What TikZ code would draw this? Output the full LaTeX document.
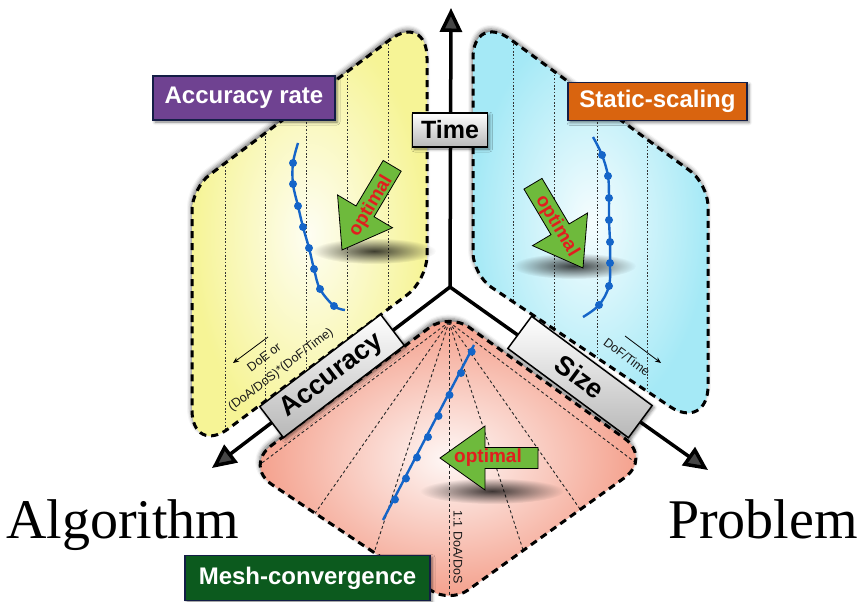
\documentclass[tikz,border=0pt]{standalone}
\usepackage{fontspec}
\setmainfont{Liberation Serif}
\setsansfont{Liberation Sans}
\usetikzlibrary{arrows.meta,shadows.blur,fadings,calc}
\definecolor{yel}{RGB}{246,244,150}
\definecolor{cya}{RGB}{165,233,246}
\definecolor{sal}{RGB}{244,160,140}
\definecolor{bl}{RGB}{21,101,200}
\definecolor{grn}{RGB}{110,186,60}
\definecolor{redt}{RGB}{225,30,30}
\definecolor{purp}{RGB}{111,66,145}
\definecolor{orng}{RGB}{217,100,15}
\definecolor{dgrn}{RGB}{12,90,30}
\definecolor{navy}{RGB}{20,30,70}
\tikzfading[name=fuzzyspot, inner color=transparent!25, outer color=transparent!100]
% rounded corner at vertex #2 between #1 and #3, cut length #4, control length #5
\newcommand{\myrc}[5]{-- ($(#2)!#4!(#1)$) .. controls ($(#2)!#5!(#1)$) and ($(#2)!#5!(#3)$) .. ($(#2)!#4!(#3)$)}
\begin{document}
\begin{tikzpicture}[x=1pt,y=-1pt,
  regshadow/.style={blur shadow={shadow xshift=-1pt,shadow yshift=3pt,shadow blur radius=4pt,shadow opacity=55}},
  border/.style={draw=black,line width=3pt,dash pattern=on 7pt off 5pt},
  dotline/.style={draw=black!80,line width=0.8pt,dash pattern=on 1.6pt off 1.8pt},
  fanline/.style={draw=black!85,line width=0.9pt,dash pattern=on 3pt off 2.5pt},
  curve/.style={draw=bl,line width=2.4pt},
  dot/.style={fill=bl},
  garrow/.style={fill=grn,draw=black,line width=0.8pt,line join=miter},
  opt/.style={text=redt,font=\sffamily\bfseries\fontsize{19}{19}\selectfont,inner sep=0pt},
  spot/.style={fill=black,path fading=fuzzyspot},
  lab/.style={draw=navy,line width=1.6pt,text=white,font=\sffamily\bfseries\fontsize{24}{24}\selectfont,inner sep=0pt,blur shadow={shadow xshift=2pt,shadow yshift=-2pt,shadow blur radius=3pt,shadow opacity=50}},
  axbox/.style={draw=black,line width=1.5pt,top color=white,bottom color=black!28,text=black,font=\sffamily\bfseries,inner sep=0pt,blur shadow={shadow xshift=2pt,shadow yshift=-2pt,shadow blur radius=3pt,shadow opacity=50}},
  axis/.style={line width=3.5pt,-{Triangle[length=24pt,width=22pt]}},
  small/.style={font=\sffamily\fontsize{12.5}{15}\selectfont,inner sep=0pt,text=black!90},
  big/.style={font=\fontsize{56}{56}\selectfont,inner sep=0pt}
]
\useasboundingbox (0,0) rectangle (862,602);
% vertices
\coordinate (Y1) at (192,188); \coordinate (Y2) at (427,12); \coordinate (Y3) at (427,280); \coordinate (Y4) at (192,456);
\coordinate (C1) at (473,12); \coordinate (C2) at (708,184); \coordinate (C3) at (708,432); \coordinate (C4) at (473,275);
\coordinate (S1) at (449,313); \coordinate (S2) at (652,458); \coordinate (S3) at (450,603); \coordinate (S4) at (244,466);
\def\ypath{($(Y4)!0.5!(Y1)$) \myrc{Y4}{Y1}{Y2}{22pt}{10pt} \myrc{Y1}{Y2}{Y3}{46pt}{21pt} \myrc{Y2}{Y3}{Y4}{24pt}{11pt} \myrc{Y3}{Y4}{Y1}{46pt}{21pt} -- cycle}
\def\cpath{($(C4)!0.5!(C1)$) \myrc{C4}{C1}{C2}{46pt}{21pt} \myrc{C1}{C2}{C3}{22pt}{10pt} \myrc{C2}{C3}{C4}{46pt}{21pt} \myrc{C3}{C4}{C1}{22pt}{10pt} -- cycle}
\def\spath{($(S4)!0.5!(S1)$) \myrc{S4}{S1}{S2}{24pt}{11pt} \myrc{S1}{S2}{S3}{34pt}{15pt} \myrc{S2}{S3}{S4}{22pt}{10pt} \myrc{S3}{S4}{S1}{34pt}{15pt} -- cycle}
\def\arrowshape{(0,0) -- (-45,-32) -- (-45,-10.5) -- (-98,-10.5) -- (-98,10.5) -- (-45,10.5) -- (-45,32) -- cycle}

% ---------- yellow region
\path[inner color=yel!12!white,outer color=yel,regshadow] \ypath;
\begin{scope}
  \clip \ypath;
  \foreach \x in {225,265,306,347,388} \draw[dotline] (\x,0) -- (\x,480);
\end{scope}
\draw[border] \ypath;

% ---------- cyan region
\path[inner color=cya!10!white,outer color=cya,regshadow] \cpath;
\begin{scope}
  \clip \cpath;
  \foreach \x in {513,554,597,647} \draw[dotline] (\x,0) -- (\x,480);
\end{scope}
\draw[border] \cpath;

% ---------- salmon region
\path[inner color=sal!8!white,outer color=sal,regshadow] \spath;
\coordinate (apex) at (449,322);
\begin{scope}
  \clip \spath;
  \foreach \a in {37,55,72,90,108,125,143} \draw[fanline] (apex) -- ++(\a:420);
\end{scope}
\draw[border] \spath;

% ---------- shadows under arrows
\fill[spot] (374,251) ellipse [x radius=62, y radius=13];
\fill[spot] (574,266) ellipse [x radius=62, y radius=13];
\fill[spot] (492,491) ellipse [x radius=72, y radius=13];

% ---------- blue curves
\draw[curve] plot[smooth,tension=0.6] coordinates {(298,143) (293,163) (293,184) (298,206) (303,227) (309,248) (314,269) (320,289) (334,306) (345,310)};
\foreach \p in {(293,163),(293,184),(298,206),(303,227),(309,248),(314,269),(320,289),(334,306)} \fill[dot] \p circle (4);
\draw[curve] plot[smooth,tension=0.6] coordinates {(593,137) (602,155) (608,176) (609,198) (609,220) (610,242) (610,263) (609,286) (599,305) (583,317)};
\foreach \p in {(602,155),(608,176),(609,198),(609,220),(610,242),(610,263),(609,286),(599,305)} \fill[dot] \p circle (4);
\draw[curve] (474,345) -- (383,520);
\foreach \p in {(471.7,351.7),(461,373),(449.5,395),(438.5,416),(428,437),(417,457.5),(406,478.5),(395,499.5)} \fill[dot] \p circle (4);

% ---------- green arrows
\draw[garrow,shift={(342,250)},rotate=-120.8] \arrowshape;
\draw[garrow,shift={(583,268)},rotate=-59.3] \arrowshape;
\draw[garrow,shift={(440,458)},rotate=180] \arrowshape;
\node[opt,rotate=59.2] (o1) at (371,206) {optimal};
\node[opt,rotate=-59.3] (o2) at (557,226) {optimal};
\node[opt] (o3) at (488,458) {optimal};

% ---------- small annotations
\node[small,rotate=37.3] (doe) at (264,357) {DoE or};
\node[small,rotate=37.3] (doa) at (281,370) {(DoA/DoS)*(DoF/Time)};
\coordinate (d1) at (268,337); \coordinate (d2) at (233,363);
\draw[line width=0.8pt,-{Stealth[length=6pt,width=5pt]}] (d1) -- (d2);
\node[small,rotate=-37] (dof) at (627,357) {DoF/Time};
\coordinate (f1) at (625,336); \coordinate (f2) at (661,363);
\draw[line width=0.8pt,-{Stealth[length=6pt,width=5pt]}] (f1) -- (f2);
\node[small,rotate=-90] (one) at (458,547) {1:1 DoA/DoS};

% ---------- axes
\coordinate (O) at (450,287);
\coordinate (tT) at (451,8);
\coordinate (tA) at (212,468);
\coordinate (tP) at (708,470);
\draw[axis] (O) -- (tT);
\draw[axis] (O) -- (tA);
\draw[axis] (O) -- (tP);

\node[axbox,minimum width=75pt,minimum height=34pt,font=\sffamily\bfseries\fontsize{25}{25}\selectfont] (time) at (450,130) {Time};
\node[axbox,minimum width=152pt,minimum height=39pt,rotate=37.3,font=\sffamily\bfseries\fontsize{27}{27}\selectfont] (acc) at (332,376) {Accuracy};
\node[axbox,minimum width=150pt,minimum height=40pt,rotate=-36.5,font=\sffamily\bfseries\fontsize{27}{27}\selectfont] (size) at (580,377) {Size};

% ---------- labels
\node[lab,fill=purp,minimum width=182pt,minimum height=44pt] (ar) at (244,98) {Accuracy rate};
\node[lab,fill=orng,minimum width=179pt,minimum height=38pt] (ss) at (657.5,101.5) {Static-scaling};
\node[lab,fill=dgrn,minimum width=245pt,minimum height=45pt] (mc) at (307.5,578) {Mesh-convergence};

\node[big,anchor=base west] (alg) at (6,538) {Algorithm};
\node[big,anchor=base east] (prob) at (858,538) {Problem};
\end{tikzpicture}
\end{document}
